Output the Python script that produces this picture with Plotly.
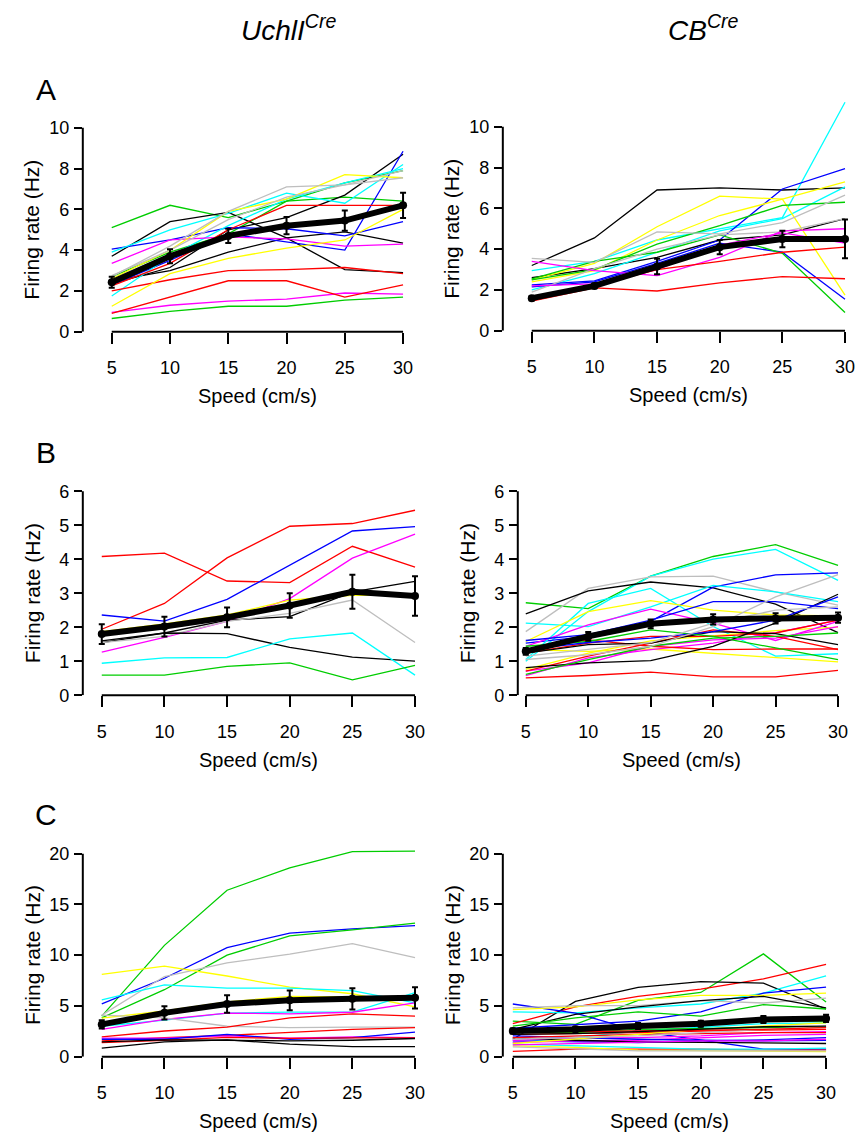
import plotly.graph_objects as go

W, H = 857, 1138
FONT = "Liberation Sans"

speeds = [5, 10, 15, 20, 25, 30]

# ---------------- Panel A, UchlI-Cre ----------------
a_left_cells = [
    [5.1, 6.2, 5.6, 6.4, 6.6, 6.4],
    [2.7, 3.9, 4.8, 6.4, 7.3, 7.9],
    [0.65, 1.0, 1.25, 1.25, 1.55, 1.7],
    [3.7, 5.4, 5.85, 4.6, 3.05, 2.9],
    [2.5, 3.0, 3.9, 4.6, 4.9, 4.35],
    [2.35, 3.15, 5.0, 5.6, 6.7, 8.7],
    [4.05, 4.5, 5.1, 5.05, 4.7, 5.4],
    [2.3, 3.5, 4.8, 4.4, 4.0, 8.85],
    [3.9, 5.0, 5.8, 6.8, 6.3, 8.2],
    [1.75, 3.7, 5.2, 6.5, 7.3, 8.0],
    [3.35, 4.5, 4.65, 4.55, 4.2, 4.3],
    [0.95, 1.3, 1.5, 1.6, 1.9, 1.85],
    [2.0, 2.55, 3.0, 3.05, 3.15, 2.85],
    [0.9, 1.7, 2.5, 2.5, 1.7, 2.3],
    [2.25, 3.35, 5.0, 6.2, 6.2, 6.2],
    [1.25, 2.85, 3.6, 4.1, 4.5, 6.0],
    [2.6, 4.0, 5.9, 6.5, 7.7, 7.55],
    [2.7, 4.2, 5.9, 7.1, 7.2, 7.55],
    [2.75, 4.0, 5.5, 6.6, 7.2, 7.9],
]
a_left_colors = ["green", "green", "green", "black", "black", "black", "blue", "blue",
                 "cyan", "cyan", "magenta", "magenta", "red", "red", "red",
                 "yellow", "yellow", "gray", "gray"]
a_left_mean = [2.43, 3.7, 4.7, 5.2, 5.45, 6.2]
a_left_sem = [0.27, 0.34, 0.35, 0.42, 0.5, 0.62]

# ---------------- Panel A, CB-Cre ----------------
a_right_cells = [
    [3.2, 4.55, 6.9, 7.0, 6.9, 7.0],
    [2.6, 3.05, 3.6, 4.45, 4.7, 5.5],
    [2.95, 3.4, 4.45, 5.0, 5.55, 11.2],
    [2.0, 2.8, 3.85, 4.9, 5.5, 7.05],
    [2.25, 2.45, 3.4, 4.45, 6.95, 7.95],
    [2.15, 2.4, 3.3, 4.3, 3.85, 1.55],
    [2.5, 3.3, 5.1, 6.6, 6.45, 1.75],
    [2.4, 2.95, 4.45, 5.65, 6.45, 7.3],
    [2.55, 3.4, 3.85, 4.7, 3.8, 0.9],
    [2.5, 3.0, 4.25, 5.15, 6.15, 6.3],
    [3.55, 3.35, 4.85, 4.75, 5.3, 6.65],
    [1.9, 3.05, 4.0, 4.7, 4.85, 5.5],
    [3.4, 2.95, 2.7, 3.6, 4.9, 5.0],
    [2.2, 2.3, 3.0, 4.2, 4.8, 4.3],
    [1.45, 2.1, 1.95, 2.35, 2.65, 2.55],
    [1.55, 2.2, 3.0, 3.4, 3.85, 4.1],
]
a_right_colors = ["black", "black", "cyan", "cyan", "blue", "blue", "yellow", "yellow",
                  "green", "green", "gray", "gray", "magenta", "magenta", "red", "red"]
a_right_mean = [1.6, 2.2, 3.15, 4.1, 4.5, 4.5]
a_right_sem = [0.1, 0.12, 0.38, 0.35, 0.4, 0.95]

# ---------------- Panel B, UchlI-Cre ----------------
b_left_cells = [
    [4.08, 4.18, 3.36, 3.31, 4.38, 3.77],
    [1.94, 2.7, 4.04, 4.97, 5.05, 5.44],
    [2.36, 2.18, 2.82, 3.82, 4.83, 4.96],
    [1.27, 1.7, 2.17, 2.84, 4.03, 4.74],
    [1.87, 2.1, 2.36, 2.8, 2.94, 2.94],
    [1.55, 1.83, 2.21, 2.31, 3.04, 3.35],
    [1.55, 1.73, 2.17, 2.41, 2.8, 1.55],
    [1.6, 1.83, 1.81, 1.41, 1.12, 1.0],
    [0.94, 1.1, 1.11, 1.66, 1.83, 0.59],
    [0.59, 0.59, 0.85, 0.95, 0.45, 0.88],
]
b_left_colors = ["red", "red", "blue", "magenta", "yellow", "black", "gray", "black",
                 "cyan", "green"]
b_left_mean = [1.8, 2.02, 2.29, 2.64, 3.04, 2.92]
b_left_sem = [0.29, 0.29, 0.29, 0.36, 0.5, 0.58]

# ---------------- Panel B, CB-Cre ----------------
b_right_cells = [
    [2.72, 2.55, 3.5, 4.08, 4.43, 3.82],
    [1.0, 2.46, 3.5, 4.0, 4.29, 3.38],
    [1.87, 3.14, 3.48, 3.5, 3.04, 2.65],
    [2.39, 3.07, 3.33, 3.16, 2.68, 1.84],
    [1.53, 1.73, 2.17, 3.18, 3.54, 3.6],
    [1.05, 2.7, 3.14, 2.02, 1.15, 1.22],
    [2.12, 2.02, 2.6, 3.23, 3.04, 2.75],
    [1.58, 2.46, 2.78, 2.5, 2.36, 2.33],
    [1.34, 1.29, 1.36, 1.24, 1.1, 0.98],
    [0.76, 1.24, 1.6, 1.75, 1.9, 2.0],
    [1.44, 2.07, 2.53, 2.12, 1.61, 2.17],
    [0.71, 0.95, 1.44, 1.63, 1.68, 2.02],
    [0.58, 1.1, 1.34, 1.53, 1.84, 2.21],
    [0.51, 0.58, 0.68, 0.54, 0.54, 0.73],
    [1.24, 1.53, 1.73, 1.73, 1.83, 2.21],
    [1.34, 1.63, 1.44, 1.34, 1.36, 1.36],
    [0.71, 1.15, 1.53, 1.92, 1.73, 1.34],
    [0.81, 0.95, 1.02, 1.44, 2.12, 2.97],
    [1.24, 1.49, 1.53, 1.87, 1.81, 1.49],
    [1.44, 1.58, 1.92, 1.73, 1.39, 1.05],
    [0.61, 1.05, 1.44, 1.68, 1.73, 1.83],
    [1.61, 1.78, 2.21, 2.75, 2.75, 2.55],
    [1.34, 1.55, 1.68, 1.87, 2.21, 2.89],
    [1.05, 1.19, 1.44, 2.02, 2.89, 3.55],
    [1.15, 1.34, 1.55, 2.12, 2.5, 2.6],
]
b_right_colors = ["green", "cyan", "gray", "black", "blue", "cyan", "cyan", "yellow",
                  "yellow", "yellow", "magenta", "magenta", "magenta", "red", "red",
                  "red", "red", "black", "black", "green", "green", "blue", "blue",
                  "gray", "gray"]
b_right_mean = [1.29, 1.73, 2.1, 2.23, 2.26, 2.28]
b_right_sem = [0.1, 0.13, 0.13, 0.15, 0.15, 0.15]

# ---------------- Panel C, UchlI-Cre ----------------
c_left_cells = [
    [4.0, 10.97, 16.4, 18.6, 20.2, 20.26],
    [5.2, 7.73, 10.75, 12.18, 12.6, 12.92],
    [3.83, 6.6, 10.0, 11.9, 12.5, 13.15],
    [4.1, 7.9, 9.25, 10.1, 11.14, 9.77],
    [8.1, 8.93, 7.95, 6.85, 6.2, 4.9],
    [5.6, 7.08, 6.75, 6.75, 6.5, 5.3],
    [3.0, 3.6, 4.3, 4.4, 4.4, 6.3],
    [3.8, 4.5, 5.4, 5.95, 5.9, 5.78],
    [2.7, 3.67, 4.3, 4.22, 4.38, 5.3],
    [4.1, 3.83, 3.0, 2.86, 2.92, 2.92],
    [1.95, 2.53, 2.92, 3.83, 4.22, 4.0],
    [1.56, 1.88, 2.1, 2.37, 2.7, 2.86],
    [1.82, 1.82, 2.05, 1.82, 1.95, 1.88],
    [1.72, 1.72, 2.2, 1.72, 1.88, 2.43],
    [1.4, 1.6, 1.9, 1.8, 1.85, 1.85],
    [0.84, 1.46, 1.66, 1.23, 1.0, 1.0],
    [1.46, 1.66, 1.62, 1.56, 1.62, 1.79],
]
c_left_colors = ["green", "blue", "green", "gray", "yellow", "cyan", "cyan", "yellow",
                 "magenta", "gray", "red", "red", "magenta", "blue", "red", "black",
                 "black"]
c_left_mean = [3.18, 4.32, 5.2, 5.55, 5.7, 5.8]
c_left_sem = [0.4, 0.65, 0.86, 0.98, 1.05, 1.05]

# ---------------- Panel C, CB-Cre ----------------
c_right_cells = [
    [3.5, 3.18, 5.55, 6.33, 10.13, 5.39],
    [3.25, 4.9, 5.94, 6.66, 7.66, 9.09],
    [1.72, 5.45, 6.82, 7.4, 7.24, 4.7],
    [4.42, 4.32, 4.8, 5.19, 6.27, 7.95],
    [5.19, 4.3, 2.53, 1.62, 0.75, 0.75],
    [2.8, 3.18, 3.5, 4.42, 6.27, 6.85],
    [4.64, 4.9, 5.6, 6.04, 6.04, 6.27],
    [4.8, 5.03, 5.03, 5.52, 5.29, 5.78],
    [2.7, 4.16, 4.9, 5.52, 5.94, 4.8],
    [3.02, 3.83, 4.42, 4.0, 5.13, 4.7],
    [2.53, 2.7, 3.02, 3.34, 3.5, 3.5],
    [1.4, 1.88, 2.53, 2.86, 3.25, 3.34],
    [0.52, 0.75, 0.75, 0.75, 0.65, 0.65],
    [1.07, 0.91, 0.65, 0.58, 0.52, 0.49],
    [0.97, 0.75, 0.58, 0.58, 0.58, 0.58],
    [1.23, 1.07, 0.91, 0.75, 0.75, 0.84],
    [1.56, 1.46, 1.4, 1.56, 1.66, 1.88],
    [1.62, 1.82, 1.88, 2.05, 2.37, 2.47],
    [2.2, 2.27, 2.37, 2.53, 2.6, 2.7],
    [1.4, 1.56, 1.62, 1.88, 2.1, 2.2],
    [1.88, 1.62, 1.46, 1.4, 1.4, 1.3],
    [2.05, 1.88, 1.72, 1.62, 1.56, 1.62],
    [1.88, 2.05, 2.2, 2.27, 2.37, 2.37],
    [1.3, 1.72, 2.2, 2.7, 3.02, 3.34],
    [2.37, 2.37, 2.7, 2.8, 2.86, 2.92],
    [1.72, 1.88, 2.05, 2.37, 2.7, 3.02],
    [1.17, 1.3, 1.4, 1.56, 1.56, 1.72],
    [2.53, 2.47, 2.53, 2.6, 2.7, 2.86],
    [2.2, 2.27, 2.47, 2.7, 2.95, 3.02],
]
c_right_colors = ["green", "red", "black", "cyan", "blue", "blue", "yellow", "gray",
                  "black", "green", "green", "cyan", "red", "yellow", "gray", "cyan",
                  "blue", "magenta", "red", "magenta", "black", "blue", "red",
                  "yellow", "green", "gray", "magenta", "red", "black"]
c_right_mean = [2.53, 2.7, 3.02, 3.25, 3.67, 3.77]
c_right_sem = [0.25, 0.25, 0.3, 0.3, 0.35, 0.35]

rate_ticks_a = [0, 2, 4, 6, 8, 10]
rate_ticks_b = [0, 1, 2, 3, 4, 5, 6]
rate_ticks_c = [0, 5, 10, 15, 20]

# R default palette
PALETTE = {"black": "#000000", "red": "#FF0000", "green": "#00CD00", "blue": "#0000FF",
           "cyan": "#00FFFF", "magenta": "#FF00FF", "yellow": "#FFFF00", "gray": "#BEBEBE"}

# layout geometry in pixels: (y-axis x, x=5 px, x=30 px, y=0 px, top tick px, domain top px)
panels = [
    (a_left_cells, a_left_colors, a_left_mean, a_left_sem, rate_ticks_a, (83, 112, 404, 334, 128, 118)),
    (a_right_cells, a_right_colors, a_right_mean, a_right_sem, rate_ticks_a, (504, 533, 847, 333, 127, 96)),
    (b_left_cells, b_left_colors, b_left_mean, b_left_sem, rate_ticks_b, (83, 102, 416, 701, 495, 486)),
    (b_right_cells, b_right_colors, b_right_mean, b_right_sem, rate_ticks_b, (519, 527, 840, 701, 495, 486)),
    (c_left_cells, c_left_colors, c_left_mean, c_left_sem, rate_ticks_c, (83, 102, 416, 1066, 861, 850)),
    (c_right_cells, c_right_colors, c_right_mean, c_right_sem, rate_ticks_c, (504, 514, 828, 1066, 861, 850)),
]

fig = go.Figure()
layout = dict(width=W, height=H, margin=dict(l=0, r=0, t=0, b=0),
              paper_bgcolor="white", plot_bgcolor="white", showlegend=False,
              font=dict(family=FONT, color="black"))
shapes = []
annotations = []

for i, (cells, colors, mean, sem, yt, geo) in enumerate(panels):
    n = i + 1
    xa, ya = f"x{n}", f"y{n}"
    yax_px, p5, p30, py0, ptop, pdom = geo
    sx = (p30 - p5) / (speeds[-1] - speeds[0])
    xr0 = speeds[0] - (p5 - yax_px) / sx
    xr1 = speeds[-1] + 8 / sx
    sy = (py0 - ptop) / yt[-1]
    yr1 = (py0 - pdom) / sy
    xdom = [yax_px / W, (p30 + 8) / W]
    ydom = [1 - py0 / H, 1 - pdom / H]

    for vals, c in zip(cells, colors):
        fig.add_trace(go.Scatter(x=speeds, y=vals, mode="lines", xaxis=xa, yaxis=ya,
                                 line=dict(color=PALETTE[c], width=1.3),
                                 hoverinfo="skip", showlegend=False))
    fig.add_trace(go.Scatter(x=speeds, y=mean, mode="lines+markers", xaxis=xa, yaxis=ya,
                             line=dict(color="black", width=6),
                             marker=dict(color="black", size=8),
                             error_y=dict(type="data", array=sem, color="black",
                                          thickness=2, width=3),
                             showlegend=False))

    layout[f"xaxis{n}"] = dict(domain=xdom, range=[xr0, xr1], anchor=ya,
                               tickvals=speeds, ticks="outside", ticklen=11, tickwidth=2,
                               tickcolor="black", showline=False, showgrid=False,
                               zeroline=False, fixedrange=True,
                               tickfont=dict(family=FONT, size=18, color="black"),
                               ticklabelstandoff=9)
    layout[f"yaxis{n}"] = dict(domain=ydom, range=[0, yr1], anchor=xa,
                               tickvals=yt, ticks="outside", ticklen=8, tickwidth=2,
                               tickcolor="black", showline=False, showgrid=False,
                               zeroline=False, fixedrange=True,
                               tickfont=dict(family=FONT, size=18, color="black"),
                               ticklabelstandoff=1)
    # axis lines (R style: detached, spanning tick range only)
    shapes.append(dict(type="line", xref=xa, yref="paper", x0=speeds[0], x1=speeds[-1],
                       y0=ydom[0], y1=ydom[0], line=dict(color="black", width=2)))
    shapes.append(dict(type="line", xref="paper", yref=ya, x0=xdom[0], x1=xdom[0],
                       y0=yt[0], y1=yt[-1], line=dict(color="black", width=2)))
    # axis titles
    annotations.append(dict(text="Speed (cm/s)", xref="paper", yref="paper",
                            x=(p5 + p30) / 2 / W, y=1 - (py0 + 65) / H,
                            showarrow=False, font=dict(family=FONT, size=20),
                            xanchor="center", yanchor="middle"))
    annotations.append(dict(text="Firing rate (Hz)", xref="paper", yref="paper",
                            x=(yax_px - 51) / W, y=1 - (py0 + ptop) / 2 / H,
                            showarrow=False, textangle=-90,
                            font=dict(family=FONT, size=21),
                            xanchor="center", yanchor="middle"))

# column titles and panel letters
for txt, xpx in [("<i>UchlI<sup>Cre</sup></i>", 289), ("<i>CB<sup>Cre</sup></i>", 705)]:
    annotations.append(dict(text=txt, xref="paper", yref="paper", x=xpx / W, y=1 - 27 / H,
                            showarrow=False, font=dict(family=FONT, size=28),
                            xanchor="center", yanchor="middle"))
for txt, ypx in [("A", 89), ("B", 456), ("C", 821)]:
    annotations.append(dict(text=txt, xref="paper", yref="paper", x=46 / W, y=1 - ypx / H,
                            showarrow=False, font=dict(family=FONT, size=30),
                            xanchor="center", yanchor="middle"))

layout["shapes"] = shapes
layout["annotations"] = annotations
fig.update_layout(**layout)
fig.write_html("out.html")
